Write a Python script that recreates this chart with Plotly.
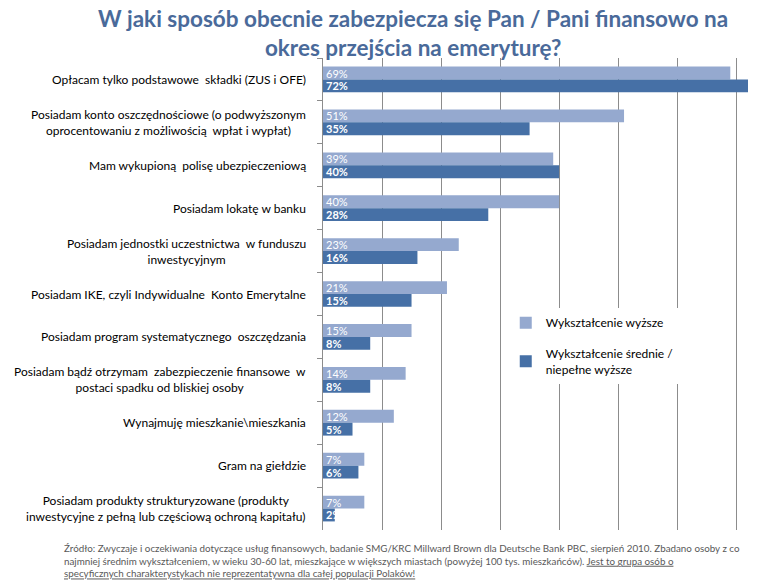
# Sposoby zabezpieczenia finansowego na emeryturę - wykres słupkowy poziomy

import plotly.graph_objects as go

categories = [
    "Opłacam tylko podstawowe  składki (ZUS i OFE)",
    "Posiadam konto oszczędnościowe (o podwyższonym<br>oprocentowaniu z możliwością  wpłat i wypłat)",
    "Mam wykupioną  polisę ubezpieczeniową",
    "Posiadam lokatę w banku",
    "Posiadam jednostki uczestnictwa  w funduszu<br>inwestycyjnym",
    "Posiadam IKE, czyli Indywidualne  Konto Emerytalne",
    "Posiadam program systematycznego  oszczędzania",
    "Posiadam bądź otrzymam  zabezpieczenie finansowe  w<br>postaci spadku od bliskiej osoby",
    "Wynajmuję mieszkanie\\mieszkania",
    "Gram na giełdzie",
    "Posiadam produkty strukturyzowane (produkty<br>inwestycyjne z pełną lub częściową ochroną kapitału)",
]
wyzsze = [69, 51, 39, 40, 23, 21, 15, 14, 12, 7, 7]
srednie = [72, 35, 40, 28, 16, 15, 8, 8, 5, 6, 2]

series_names = ["Wykształcenie wyższe", "Wykształcenie średnie /<br>niepełne wyższe"]

title = "W jaki sposób obecnie zabezpiecza się Pan / Pani finansowo na<br>okres przejścia na emeryturę?"
source = ("Źródło: Zwyczaje i oczekiwania dotyczące usług finansowych, badanie SMG/KRC Millward Brown dla Deutsche Bank PBC, sierpień 2010. Zbadano osoby z co<br>"
          "najmniej średnim wykształceniem, w wieku 30-60 lat, mieszkające w większych miastach (powyżej 100 tys. mieszkańców). <u>Jest to grupa osób o</u><br>"
          "<u>specyficznych charakterystykach nie reprezentatywna dla całej populacji Polaków!</u>")

FONT = "Lato"
LIGHT = "#95A9CF"
DARK = "#4670A6"

fig = go.Figure()
fig.add_trace(go.Bar(
    y=categories, x=wyzsze, orientation="h", name=series_names[0],
    marker=dict(color=LIGHT, line=dict(width=0)), legendgroup="a",
    texttemplate="%{x}%", textposition="inside", insidetextanchor="start",
    constraintext="none", textangle=0,
    insidetextfont=dict(family=FONT, size=11, color="white"),
    hoverinfo="x+y",
))
fig.add_trace(go.Bar(
    y=categories, x=srednie, orientation="h", name=series_names[1],
    marker=dict(color=DARK, line=dict(width=0)), legendgroup="b",
    texttemplate="%{x}%", textposition="inside", insidetextanchor="start",
    constraintext="none", textangle=0,
    insidetextfont=dict(family=FONT, size=11, color="white", weight="bold"),
    hoverinfo="x+y",
))

# etykiety kategorii jako adnotacje (wyśrodkowane wiersze, wyrównane do osi)
for c in categories:
    fig.add_annotation(
        x=0, xref="paper", xshift=-15, xanchor="right", y=c, yref="y",
        text=c, showarrow=False, align="center",
        font=dict(family=FONT, size=12, color="#000000"),
    )

# tytuł
fig.add_annotation(
    x=0.212, xref="paper", xanchor="center", y=1.1165, yref="paper", yanchor="top",
    text=title, showarrow=False, align="center",
    font=dict(family=FONT, size=22.5, color="#4A6A9A", weight="bold"),
)

# źródło
fig.add_annotation(
    x=-0.614, xref="paper", xanchor="left", y=-0.022, yref="paper", yanchor="top",
    text=source, showarrow=False, align="left",
    font=dict(family=FONT, size=9.8, color="#595959"),
)

fig.update_layout(
    width=773, height=585,
    margin=dict(l=323, r=25, t=58, b=55),
    paper_bgcolor="white", plot_bgcolor="white",
    barmode="group", bargap=0.4, bargroupgap=0,
    font=dict(family=FONT, size=12, color="#000000"),
    legend=dict(x=0.43, y=0.47, xanchor="left", yanchor="top",
                bgcolor="white", traceorder="grouped", tracegroupgap=12,
                font=dict(family=FONT, size=12, color="#000000"),
                itemwidth=30),
    showlegend=True,
)
fig.update_xaxes(range=[0, 72], dtick=10, showgrid=True, gridcolor="#8C8C8C",
                 gridwidth=1, showticklabels=False, zeroline=False, showline=False,
                 ticks="")
fig.update_yaxes(autorange="reversed", showticklabels=False, showline=True,
                 linecolor="#8C8C8C", linewidth=1, ticks="outside",
                 tickson="boundaries", ticklen=5, tickcolor="#8C8C8C",
                 showgrid=False, automargin=False)

fig.write_html("out.html", config={"displayModeBar": False},
               post_script="document.body.style.margin='0';")
